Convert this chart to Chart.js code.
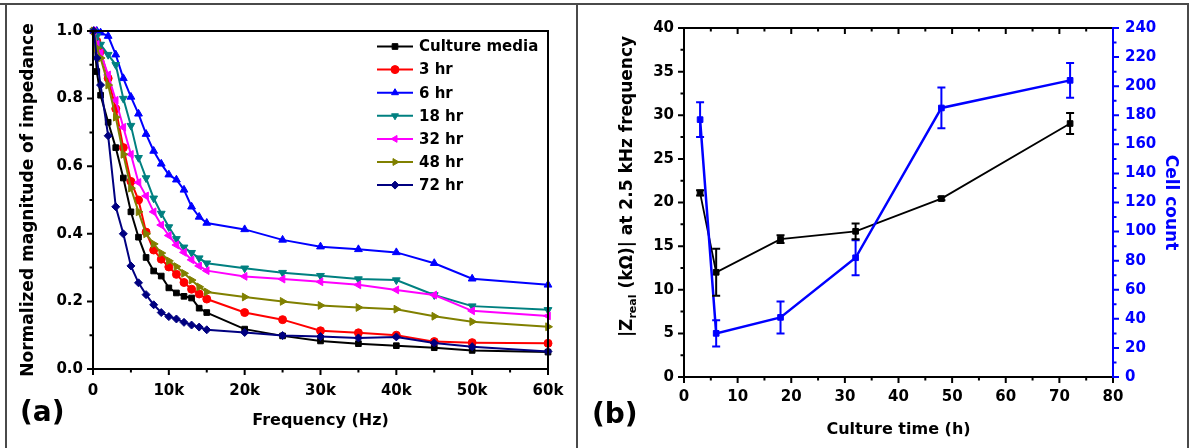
<!DOCTYPE html>
<html>
<head>
<meta charset="utf-8">
<script src="https://cdn.jsdelivr.net/npm/chart.js@4.4.1/dist/chart.umd.min.js"></script>
<style>
  html, body { margin: 0; padding: 0; background: #fff; }
  #page { position: relative; width: 1191px; height: 448px; overflow: hidden; font-family: "DejaVu Sans", sans-serif; }
  canvas { position: absolute; top: 0; }
  #ca { left: 0; }
  #cb { left: 577px; }
  .frame { position: absolute; left: 5px; top: 3px; width: 1184px; height: 446px; border: 2px solid #4a4a4a; border-bottom: none; box-sizing: border-box; pointer-events: none; }
  .topline { position: absolute; left: 0; top: 3px; width: 1189px; height: 2px; background: #4a4a4a; }
  .divider { position: absolute; left: 576px; top: 3px; width: 2px; height: 445px; background: #4a4a4a; }
  .tag { position: absolute; font-weight: bold; font-size: 28px; line-height: 1; color: #000; }
</style>
</head>
<body>
<div id="page">
  <canvas id="ca" width="577" height="448"></canvas>
  <canvas id="cb" width="614" height="448"></canvas>
  <div class="frame"></div>
  <div class="topline"></div>
  <div class="divider"></div>
  <div class="tag" style="left:20px; top:398px;">(a)</div>
  <div class="tag" style="left:592px; top:400px;">(b)</div>
</div>
<script>
// ---- panel (a): normalized impedance spectra ----
const freqHz = [100, 500, 1000, 2000, 3000, 4000, 5000, 6000, 7000, 8000, 9000, 10000, 11000, 12000,
  13000, 14000, 15000, 20000, 25000, 30000, 35000, 40000, 45000, 50000, 60000];
const freqTickLabels = ['0', '10k', '20k', '30k', '40k', '50k', '60k'];
const impedanceTickLabels = ['0.0', '0.2', '0.4', '0.6', '0.8', '1.0'];

const seriesLabels = ['Culture media', '3 hr', '6 hr', '18 hr', '32 hr', '48 hr', '72 hr'];
const cultureMedia = [1.0, 0.88, 0.81, 0.73, 0.655, 0.565, 0.465, 0.39, 0.33, 0.29, 0.275, 0.24, 0.225, 0.215,
  0.21, 0.18, 0.167, 0.118, 0.098, 0.083, 0.075, 0.069, 0.063, 0.055, 0.05];
const hr3 = [1.0, 0.97, 0.94, 0.86, 0.77, 0.655, 0.555, 0.5, 0.405, 0.352, 0.325, 0.302, 0.28, 0.256,
  0.236, 0.222, 0.207, 0.167, 0.146, 0.113, 0.107, 0.1, 0.081, 0.078, 0.076];
const hr6 = [1.0, 1.0, 0.995, 0.985, 0.93, 0.86, 0.805, 0.755, 0.695, 0.645, 0.607, 0.575, 0.56, 0.53,
  0.48, 0.45, 0.432, 0.413, 0.382, 0.362, 0.354, 0.345, 0.313, 0.267, 0.249];
const hr18 = [1.0, 0.985, 0.96, 0.93, 0.9, 0.8, 0.72, 0.625, 0.565, 0.505, 0.46, 0.42, 0.385, 0.36,
  0.344, 0.328, 0.313, 0.298, 0.285, 0.276, 0.266, 0.263, 0.219, 0.186, 0.175];
const hr32 = [1.0, 0.96, 0.935, 0.87, 0.795, 0.715, 0.635, 0.552, 0.512, 0.465, 0.426, 0.395, 0.367, 0.345,
  0.323, 0.305, 0.291, 0.274, 0.266, 0.258, 0.249, 0.234, 0.219, 0.172, 0.157];
const hr48 = [1.0, 0.95, 0.92, 0.84, 0.745, 0.635, 0.535, 0.465, 0.40, 0.37, 0.343, 0.32, 0.303, 0.283,
  0.263, 0.243, 0.228, 0.213, 0.2, 0.188, 0.182, 0.177, 0.156, 0.14, 0.125];
const hr72 = [1.0, 0.92, 0.84, 0.69, 0.48, 0.40, 0.305, 0.255, 0.22, 0.19, 0.167, 0.155, 0.148, 0.138,
  0.13, 0.124, 0.116, 0.108, 0.099, 0.096, 0.092, 0.095, 0.077, 0.066, 0.052];

// ---- panel (b): |Zreal| at 2.5 kHz and cell count vs culture time ----
const cultureHours = [3, 6, 18, 32, 48, 72];
const zReal = [21.1, 12.0, 15.8, 16.7, 20.45, 29.05];
const zRealErr = [0.3, 2.7, 0.45, 0.9, 0.2, 1.2];
const cellCount = [177, 30, 41, 82, 185, 204];
const cellCountErr = [12, 9, 11, 12, 14, 12];

const BLUE = '#0000ff';
Chart.defaults.font.family = '"DejaVu Sans", sans-serif';
Chart.defaults.font.weight = 'bold';
Chart.defaults.color = '#000';

function fixSize(w, h) {
  return scale => {
    if (w != null) scale.width = w;
    if (h != null) scale.height = h;
  };
}

// axis lines, major/minor tick marks and frame edges, drawn via the chart's scales
function axisMarks(specs) {
  return {
    id: 'axisMarks',
    afterDraw(chart) {
      const { ctx, chartArea: a } = chart;
      ctx.save();
      ctx.lineCap = 'square';
      specs.forEach(s => {
        ctx.strokeStyle = s.color;
        ctx.lineWidth = 2;
        ctx.beginPath();
        if (s.side === 'bottom') { ctx.moveTo(a.left, a.bottom); ctx.lineTo(a.right, a.bottom); }
        if (s.side === 'top') { ctx.moveTo(a.left, a.top); ctx.lineTo(a.right, a.top); }
        if (s.side === 'left') { ctx.moveTo(a.left, a.top); ctx.lineTo(a.left, a.bottom); }
        if (s.side === 'right') { ctx.moveTo(a.right, a.top); ctx.lineTo(a.right, a.bottom); }
        ctx.stroke();
        if (!s.axis) return;
        const sc = chart.scales[s.axis];
        const n = Math.round((sc.max - sc.min) / s.minor);
        ctx.lineCap = 'butt';
        ctx.beginPath();
        for (let k = 0; k <= n; k++) {
          const v = sc.min + k * s.minor;
          const r = v / s.major;
          const len = Math.abs(r - Math.round(r)) < 1e-6 ? 6 : 3.5;
          const p = sc.getPixelForValue(v);
          const dir = s.inward ? -1 : 1;
          if (s.side === 'bottom') { ctx.moveTo(p, a.bottom); ctx.lineTo(p, a.bottom + dir * len); }
          if (s.side === 'top') { ctx.moveTo(p, a.top); ctx.lineTo(p, a.top - dir * len); }
          if (s.side === 'left') { ctx.moveTo(a.left, p); ctx.lineTo(a.left - dir * len, p); }
          if (s.side === 'right') { ctx.moveTo(a.right, p); ctx.lineTo(a.right + dir * len, p); }
        }
        ctx.stroke();
        ctx.lineCap = 'square';
      });
      ctx.restore();
    }
  };
}

const insideLegend = {
  id: 'insideLegend',
  afterDraw(chart) {
    const { ctx, chartArea: a } = chart;
    const x0 = a.right - 171, x1 = a.right - 135, tx = a.right - 129;
    ctx.save();
    ctx.font = 'bold 15px "DejaVu Sans", sans-serif';
    ctx.textBaseline = 'middle';
    ctx.textAlign = 'left';
    chart.data.datasets.forEach((ds, i) => {
      const y = a.top + 15.5 + i * 23.1;
      ctx.strokeStyle = ds.borderColor;
      ctx.fillStyle = ds.borderColor;
      ctx.lineWidth = 2;
      ctx.beginPath(); ctx.moveTo(x0, y); ctx.lineTo(x1, y); ctx.stroke();
      if (Chart.helpers && Chart.helpers.drawPoint) {
        ctx.lineWidth = 1;
        Chart.helpers.drawPoint(ctx, { pointStyle: ds.pointStyle, rotation: ds.pointRotation || 0, radius: 4, borderWidth: 1 }, (x0 + x1) / 2, y);
      }
      ctx.fillStyle = '#000';
      ctx.fillText(ds.label, tx, y + 1);
    });
    ctx.restore();
  }
};

const errorBars = {
  id: 'errorBars',
  afterDatasetsDraw(chart) {
    const ctx = chart.ctx;
    chart.data.datasets.forEach((ds, i) => {
      if (!ds.errors) return;
      const meta = chart.getDatasetMeta(i);
      const ys = chart.scales[meta.yAxisID];
      ctx.save();
      ctx.strokeStyle = ds.borderColor;
      ctx.lineWidth = 2;
      meta.data.forEach((pt, j) => {
        const v = ds.data[j].y, e = ds.errors[j];
        const t = ys.getPixelForValue(v + e), b = ys.getPixelForValue(v - e);
        ctx.beginPath();
        ctx.moveTo(pt.x, t); ctx.lineTo(pt.x, b);
        ctx.moveTo(pt.x - 4, t); ctx.lineTo(pt.x + 4, t);
        ctx.moveTo(pt.x - 4, b); ctx.lineTo(pt.x + 4, b);
        ctx.stroke();
      });
      ctx.restore();
    });
  }
};

// rotated left title with a subscript, panel (b)
const zTitle = {
  id: 'zTitle',
  afterDraw(chart) {
    const ctx = chart.ctx;
    const parts = [['|Z', 17, 0], ['real', 11, 5], [' (k\u03A9)| at 2.5 kHz frequency', 17, 0]];
    ctx.save();
    ctx.translate(51, 186.5);
    ctx.rotate(-Math.PI / 2);
    ctx.textBaseline = 'middle';
    ctx.fillStyle = '#000';
    let total = 0;
    parts.forEach(p => { ctx.font = `bold ${p[1]}px "DejaVu Sans", sans-serif`; total += ctx.measureText(p[0]).width; });
    let x = -total / 2;
    parts.forEach(p => {
      ctx.font = `bold ${p[1]}px "DejaVu Sans", sans-serif`;
      ctx.fillText(p[0], x, p[2]);
      x += ctx.measureText(p[0]).width;
    });
    ctx.restore();
  }
};

const colorsA = ['#000000', '#ff0000', '#0000ff', '#008080', '#ff00ff', '#808000', '#000080'];
const stylesA = [['rect', 0], ['circle', 0], ['triangle', 0], ['triangle', 180], ['triangle', 270], ['triangle', 90], ['rectRot', 0]];
const valuesA = [cultureMedia, hr3, hr6, hr18, hr32, hr48, hr72];

new Chart(document.getElementById('ca'), {
  type: 'line',
  data: {
    datasets: valuesA.map((vals, i) => ({
      label: seriesLabels[i],
      data: freqHz.map((f, j) => ({ x: f, y: vals[j] })),
      borderColor: colorsA[i],
      backgroundColor: colorsA[i],
      pointBackgroundColor: colorsA[i],
      borderWidth: 2,
      pointRadius: stylesA[i][0] === 'triangle' ? 4.5 : 4,
      pointBorderWidth: 1,
      pointStyle: stylesA[i][0],
      pointRotation: stylesA[i][1],
      order: 7 - i,
      clip: false,
      tension: 0
    }))
  },
  options: {
    responsive: false,
    animation: false,
    devicePixelRatio: 1,
    layout: { padding: { left: 0, top: 31, right: 29, bottom: 0 } },
    plugins: { legend: { display: false }, tooltip: { enabled: false } },
    scales: {
      x: {
        type: 'linear', min: 0, max: 60000,
        grid: { display: false, drawTicks: false }, border: { display: false },
        ticks: { stepSize: 10000, autoSkip: false, maxRotation: 0, padding: 13, font: { size: 15 },
          callback: (v, i) => freqTickLabels[i] },
        title: { display: true, text: 'Frequency (Hz)', font: { size: 16 }, padding: { top: 0, bottom: 17.4 } },
        afterFit: fixSize(null, 79)
      },
      y: {
        type: 'linear', min: 0, max: 1,
        grid: { display: false, drawTicks: false }, border: { display: false },
        ticks: { stepSize: 0.2, autoSkip: false, padding: 10, font: { size: 15 },
          callback: (v, i) => impedanceTickLabels[i] },
        title: { display: true, text: 'Normalized magnitude of impedance', font: { size: 17 }, padding: { top: 18.8, bottom: 0 } },
        afterFit: fixSize(93, null)
      }
    }
  },
  plugins: [axisMarks([
    { side: 'top', color: '#000' },
    { side: 'right', color: '#000' },
    { side: 'bottom', axis: 'x', major: 10000, minor: 5000, color: '#000' },
    { side: 'left', axis: 'y', major: 0.2, minor: 0.1, color: '#000' }
  ]), insideLegend]
});

new Chart(document.getElementById('cb'), {
  type: 'line',
  data: {
    datasets: [
      {
        label: 'Cell count',
        data: cultureHours.map((h, j) => ({ x: h, y: cellCount[j] })),
        errors: cellCountErr,
        yAxisID: 'y1',
        borderColor: BLUE, backgroundColor: BLUE, pointBackgroundColor: BLUE,
        borderWidth: 2.5, pointStyle: 'rect', pointRadius: 4, pointBorderWidth: 1,
        order: 0, clip: false
      },
      {
        label: '|Zreal|',
        data: cultureHours.map((h, j) => ({ x: h, y: zReal[j] })),
        errors: zRealErr,
        yAxisID: 'y',
        borderColor: '#000', backgroundColor: '#000', pointBackgroundColor: '#000',
        borderWidth: 1.8, pointStyle: 'rect', pointRadius: 4, pointBorderWidth: 1,
        order: 1, clip: false
      }
    ]
  },
  options: {
    responsive: false,
    animation: false,
    devicePixelRatio: 1,
    layout: { padding: { left: 0, top: 28, right: 0, bottom: 0 } },
    plugins: { legend: { display: false }, tooltip: { enabled: false } },
    scales: {
      x: {
        type: 'linear', min: 0, max: 80,
        grid: { display: false, drawTicks: false }, border: { display: false },
        ticks: { stepSize: 10, autoSkip: false, maxRotation: 0, padding: 11, font: { size: 15 } },
        title: { display: true, text: 'Culture time (h)', font: { size: 16 }, padding: { top: 0, bottom: 8.4 } },
        afterFit: fixSize(null, 71)
      },
      y: {
        type: 'linear', position: 'left', min: 0, max: 40,
        grid: { display: false, drawTicks: false }, border: { display: false },
        ticks: { stepSize: 5, autoSkip: false, padding: 10, font: { size: 15 } },
        afterFit: fixSize(107, null)
      },
      y1: {
        type: 'linear', position: 'right', min: 0, max: 240,
        grid: { display: false, drawTicks: false }, border: { display: false },
        ticks: { stepSize: 20, autoSkip: false, padding: 12, color: BLUE, font: { size: 15 } },
        title: { display: true, text: 'Cell count', color: BLUE, font: { size: 17 }, padding: { top: 10.8, bottom: 0 } },
        afterFit: fixSize(78, null)
      }
    }
  },
  plugins: [axisMarks([
    { side: 'top', axis: 'x', major: 10, minor: 5, inward: true, color: '#000' },
    { side: 'bottom', axis: 'x', major: 10, minor: 5, color: '#000' },
    { side: 'left', axis: 'y', major: 5, minor: 2.5, color: '#000' },
    { side: 'right', axis: 'y1', major: 20, minor: 10, color: BLUE }
  ]), errorBars, zTitle]
});
</script>
</body>
</html>
